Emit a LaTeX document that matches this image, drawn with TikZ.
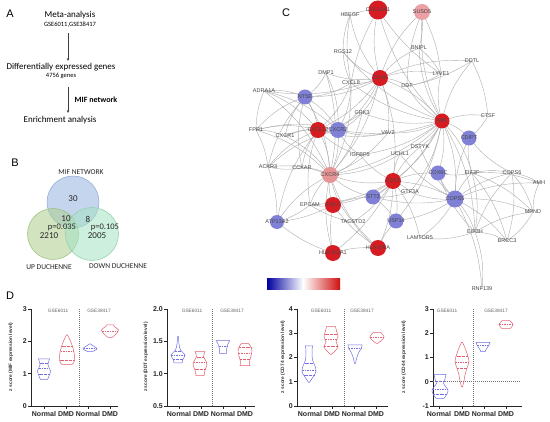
\documentclass[tikz,border=0pt]{standalone}
\usepackage{fontspec}
\setmainfont{Liberation Sans}
\newfontfamily\calfont{Carlito}
\usetikzlibrary{arrows.meta}
\pgfdeclarelayer{bg}
\pgfsetlayers{bg,main}
\definecolor{nred}{RGB}{214,28,34}
\definecolor{nblue}{RGB}{128,128,214}
\definecolor{npink}{RGB}{230,148,150}
\definecolor{vblu}{RGB}{112,112,226}
\definecolor{vred}{RGB}{226,96,112}
\newcommand\vio[3]{%
  \gdef\rpts{}\gdef\lpts{}%
  \foreach \yy/\ww in {#3}{\xdef\rpts{\rpts(\ww,\yy)}\xdef\lpts{(-\ww,\yy)\lpts}}%
  \begin{scope}[xshift=#1pt]%
  \edef\vtmp{\noexpand\draw[#2] plot[smooth,tension=0.55] coordinates {\rpts} -- plot[smooth,tension=0.55] coordinates {\lpts} -- cycle;}%
  \vtmp
  \end{scope}}
\newcommand\vmed[4]{\draw[#4] (#1-#3,#2) -- (#1+#3,#2);}
\tikzset{
  netedge/.style={draw=black!32, line width=0.4pt},
  lab/.style={font=\fontsize{5.5}{5.5}\selectfont, text=black!72, inner sep=0.3pt},
  cnode/.style={circle, minimum size=16pt, inner sep=0pt},
  rednode/.style={cnode, fill=nred, label={[lab]center:#1}},
  bluenode/.style={cnode, fill=nblue, label={[lab]center:#1}},
  pinknode/.style={cnode, fill=npink, label={[lab]center:#1}},
  atext/.style={font=\calfont\fontsize{9}{9}\selectfont, inner sep=0.5pt},
  asmall/.style={font=\calfont\fontsize{6.5}{6.5}\selectfont, inner sep=0.5pt},
  aarrow/.style={draw=black!75, line width=0.5pt, -{Stealth[length=3pt,width=2.6pt]}},
  vtext/.style={font=\calfont\fontsize{7.5}{7.5}\selectfont, inner sep=0.3pt, text=black!85},
  vnum/.style={font=\calfont\fontsize{9}{9}\selectfont, inner sep=0.3pt, text=black!85},
  vp/.style={font=\calfont\fontsize{8.5}{8.5}\selectfont, inner sep=0.3pt, text=black!85},
  panel/.style={font=\fontsize{11}{11}\selectfont, inner sep=0pt},
  axis/.style={draw=black!85, line width=0.7pt},
  tk/.style={font=\bfseries\fontsize{7}{7}\selectfont, inner sep=0.5pt, text=black!85},
  xl/.style={font=\bfseries\fontsize{7}{7}\selectfont, inner sep=0.5pt, text=black!85},
  ylab/.style={font=\bfseries\fontsize{4.8}{4.8}\selectfont, inner sep=0pt, rotate=90, text=black!80},
  gse/.style={font=\fontsize{4.8}{4.8}\selectfont, inner sep=0pt, text=black!60},
  divider/.style={draw=black!55, line width=0.5pt, dash pattern=on 1pt off 1pt},
  vb/.style={draw=vblu, line width=0.5pt},
  vr/.style={draw=vred, line width=0.5pt},
  mb/.style={draw=vblu, line width=0.45pt, dash pattern=on 1.5pt off 1pt},
  mr/.style={draw=vred, line width=0.45pt, dash pattern=on 1.5pt off 1pt},
  qb/.style={draw=vblu, line width=0.4pt, dash pattern=on 0.5pt off 0.8pt},
  qr/.style={draw=vred, line width=0.4pt, dash pattern=on 0.5pt off 0.8pt},
}
\begin{document}
\begin{tikzpicture}[x=1pt,y=-1pt]
\useasboundingbox (0,0) rectangle (550,422);
\begin{pgfonlayer}{bg}
\fill[white] (0,0) rectangle (550,422);
\end{pgfonlayer}
% ---------------- Panel A
\node[panel] (pA) at (10,14) {A};
\node[atext] (meta) at (70,15) {Meta-analysis};
\node[asmall] (gse) at (70,25) {GSE6011,GSE38417};
\node[atext] (deg) at (61,67) {Differentially expressed genes};
\node[asmall] (n4756) at (61,76) {4756 genes};
\node[atext] (enr) at (60,120) {Enrichment analysis};
\node[font=\calfont\bfseries\fontsize{8}{8}\selectfont, inner sep=0.5pt] (mifnet) at (96,100) {MIF network};
\coordinate (a1s) at (68,33);
\coordinate (a1e) at (68,61);
\coordinate (a2s) at (68,87);
\coordinate (a2e) at (68,113);
\draw[aarrow] (a1s) -- (a1e);
\draw[aarrow] (a2s) -- (a2e);
% ---------------- Panel B
\node[panel] (pB) at (15,163) {B};
\node[circle, minimum size=52pt, fill={rgb,255:red,160;green,186;blue,228}, fill opacity=0.6, draw={rgb,255:red,140;green,166;blue,214}, line width=0.5pt] (vmif) at (73,202) {};
\node[circle, minimum size=51pt, fill={rgb,255:red,172;green,206;blue,140}, fill opacity=0.55, draw={rgb,255:red,150;green,190;blue,120}, line width=0.5pt] (vup) at (53,234) {};
\node[circle, minimum size=53pt, fill={rgb,255:red,165;green,226;blue,196}, fill opacity=0.55, draw={rgb,255:red,140;green,206;blue,172}, line width=0.5pt] (vdown) at (92,234) {};
\node[vtext] (tmif) at (81,172) {MIF NETWORK};
\node[vnum] (t30) at (73,199) {30};
\node[vnum] (t10) at (66,219) {10};
\node[vnum] (t8) at (88,219) {8};
\node[vp] (p1) at (62,227) {p=0.035};
\node[vp] (p2) at (105,227) {p=0.105};
\node[vnum] (t2210) at (49,236) {2210};
\node[vnum] (t2005) at (97,236) {2005};
\node[vtext] (tup) at (49,267) {UP DUCHENNE};
\node[vtext] (tdown) at (118,266) {DOWN DUCHENNE};
% ---------------- Panel C
\node[panel] (pC) at (286,13) {C};
\node[rednode=COL14A1, minimum size=19pt] (col14) at (378,10) {};
\node[pinknode=SUSD5, fill={rgb,255:red,234;green,160;blue,166}] (susd) at (422,12) {};
\node[lab] (hbegf) at (350,15) {HBEGF};
\node[lab] (rgs) at (343,52) {RGS12};
\node[lab] (bnipl) at (419,48) {BNIPL};
\node[lab] (ddtl) at (472,61) {DDTL};
\node[lab] (lyve) at (441,74) {LYVE1};
\node[lab] (dmp) at (326,73) {DMP1};
\node[rednode=CD44] (cd44) at (380,78) {};
\node[lab] (cxcl8) at (351,83) {CXCL8};
\node[lab] (ddt) at (407,86) {DDT};
\node[lab] (adra) at (264,91) {ADRA1A};
\node[bluenode=NT5E, minimum size=15pt] (nt5e) at (305,97) {};
\node[lab] (grk3) at (362,113) {GRK3};
\node[lab] (ctsf) at (488,116) {CTSF};
\node[rednode=MIF, minimum size=15pt] (mif) at (442,121) {};
\node[bluenode=CDIPT, minimum size=15pt] (cdipt) at (469,138) {};
\node[lab] (fpr1) at (256,130) {FPR1};
\node[rednode=CXCL12] (cxcl12) at (318,130) {};
\node[bluenode=CXCR2] (cxcr2) at (338,130) {};
\node[lab] (cxcr1) at (285,136) {CXCR1};
\node[lab] (vav2) at (388,133) {VAV2};
\node[lab] (dstyk) at (420,147) {DSTYK};
\node[lab] (igfbp5) at (360,155) {IGFBP5};
\node[lab] (uchl1) at (400,154) {UCHL1};
\node[lab] (ackr3) at (268,167) {ACKR3};
\node[lab] (cckar) at (302,168) {CCKAR};
\node[pinknode=CXCR4] (cxcr4) at (330,175) {};
\node[rednode=CD74] (cd74) at (393,181) {};
\node[bluenode=COX6C, minimum size=15pt] (cox6c) at (438,173) {};
\node[lab] (eif3f) at (472,173) {EIF3F};
\node[lab] (cops6) at (512,173) {COPS6};
\node[lab] (amh) at (539,183) {AMH};
\node[bluenode=COPS5, minimum size=17pt] (cops5) at (455,199) {};
\node[lab] (gtf3a) at (410,192) {GTF3A};
\node[bluenode=STT3, minimum size=15pt] (stt3) at (373,197) {};
\node[lab] (epcam) at (310,205) {EPCAM};
\node[rednode=FHL1] (fhl1) at (333,205) {};
\node[lab] (mpnd) at (533,212) {MPND};
\node[bluenode=ATP13A2, minimum size=14pt] (atp) at (277,222) {};
\node[lab] (tacstd2) at (353,222) {TACSTD2};
\node[bluenode=USP14, minimum size=15pt] (usp14) at (396,221) {};
\node[lab] (eif3h) at (475,232) {EIF3H};
\node[lab] (lamtor5) at (420,238) {LAMTOR5};
\node[lab] (brcc3) at (507,241) {BRCC3};
\node[rednode=HLA-DRA] (hladra) at (378,248) {};
\node[rednode=HLA-DQA1] (hladqa1) at (333,253) {};
\node[lab] (rnf139) at (482,289) {RNF139};
\begin{pgfonlayer}{bg}
\foreach \a/\b in {cd44/col14, cd44/susd, cd44/hbegf, cd44/rgs, cd44/dmp, cd44/cxcl8, cd44/ddt, cd44/lyve, cd44/bnipl, cd44/nt5e, cd44/grk3, cd44/mif, cd44/cxcr4, cd44/cd74, cd44/cxcl12, cd44/cxcr2, cd44/vav2, cd44/ddtl, cd44/adra,
 mif/ddt, mif/ddtl, mif/lyve, mif/bnipl, mif/susd, mif/ctsf, mif/cdipt, mif/dstyk, mif/uchl1, mif/vav2, mif/grk3, mif/cd74, mif/cops5, mif/cox6c, mif/eif3f, mif/cxcr4, mif/cxcr2, mif/cxcl8, mif/rgs, mif/igfbp5, mif/gtf3a, mif/stt3, mif/eif3h, mif/usp14, mif/col14}
  \draw[netedge] (\a.center) to[bend left=14] (\b.center);
\foreach \a/\b in {cxcr4/cxcl12, cxcr4/cxcr2, cxcr4/cxcr1, cxcr4/ackr3, cxcr4/cckar, cxcr4/fpr1, cxcr4/adra, cxcr4/nt5e, cxcr4/atp, cxcr4/epcam, cxcr4/fhl1, cxcr4/igfbp5, cxcr4/cd74, cxcr4/stt3, cxcr4/hladra, cxcr4/hladqa1, cxcr4/tacstd2, cxcr4/cxcl8, cxcr4/grk3, cxcr4/vav2, cxcr4/uchl1, cxcr4/dmp,
 cxcl12/cxcr2, cxcl12/cxcr1, cxcl12/ackr3, cxcl12/fpr1, cxcl12/adra, cxcl12/nt5e, cxcl12/cckar, cxcl12/atp, cxcl12/epcam, cxcl12/igfbp5, cxcl12/grk3, cxcl12/cxcl8, cxcl12/vav2,
 cxcr2/cxcr1, cxcr2/fpr1, cxcr2/nt5e, cxcr2/cxcl8, cxcr2/adra, cxcr2/ackr3, cxcr2/grk3, cxcr2/vav2, cxcr2/igfbp5, cxcr2/dmp,
 nt5e/adra, nt5e/cxcr1, nt5e/fpr1, nt5e/ackr3, nt5e/cckar, nt5e/dmp, nt5e/cxcl8}
  \draw[netedge] (\a.center) to[bend right=14] (\b.center);
\foreach \a/\b in {cd74/hladra, cd74/hladqa1, cd74/stt3, cd74/usp14, cd74/fhl1, cd74/gtf3a, cd74/cops5, cd74/uchl1, cd74/dstyk, cd74/igfbp5, cd74/tacstd2, cd74/epcam, cd74/lamtor5, cd74/cox6c,
 cops5/cops6, cops5/eif3f, cops5/eif3h, cops5/mpnd, cops5/brcc3, cops5/amh, cops5/cox6c, cops5/gtf3a, cops5/lamtor5, cops5/usp14, cops5/stt3, cops5/rnf139, cops5/cdipt, cops5/dstyk, cops5/uchl1,
 eif3f/cops6, eif3f/eif3h, eif3f/mpnd, eif3f/brcc3, eif3f/cox6c, eif3f/cdipt, eif3f/amh,
 eif3h/cops6, eif3h/mpnd, eif3h/brcc3, eif3h/lamtor5, eif3h/rnf139, eif3h/cox6c,
 cops6/mpnd, cops6/brcc3, cops6/amh, cops6/cdipt, mpnd/brcc3, mpnd/amh}
  \draw[netedge] (\a.center) to[bend left=12] (\b.center);
\foreach \a/\b in {hladra/hladqa1, fhl1/hladqa1, fhl1/hladra, tacstd2/hladra, epcam/fhl1, epcam/tacstd2, atp/ackr3, atp/epcam, atp/fhl1, atp/hladqa1, usp14/stt3, usp14/hladra, stt3/fhl1, stt3/gtf3a,
 cdipt/ctsf, ctsf/ddtl, ddt/ddtl, ddt/lyve, bnipl/susd, lyve/susd, lyve/bnipl, hbegf/rgs, col14/lyve, col14/hbegf, rgs/cxcl8, ackr3/fpr1, ackr3/cckar, cxcr1/fpr1, adra/fpr1, hbegf/cxcl8, col14/cxcl8, susd/ddt}
  \draw[netedge] (\a.center) to[bend right=10] (\b.center);
\end{pgfonlayer}
% colour bar
\shade[left color={rgb,255:red,0;green,0;blue,160}, right color=white] (267,279) rectangle (303,290);
\shade[left color=white, right color={rgb,255:red,208;green,16;blue,16}] (303,279) rectangle (340,290);
% ---------------- Panel D
\node[panel] (pD) at (10,296) {D};
% plot 1
\draw[axis] (31,309) -- (31,406) -- (118,406);
\foreach \y/\l in {309/3,341.3/2,373.7/1,406/0} {\draw[axis] (31,\y) -- (28,\y); \node[tk,anchor=east] at (27.5,\y) {\l};}
\foreach \x in {44,66,88,110} \draw[axis] (\x,406) -- (\x,409);
\foreach \x/\t in {44/Normal,66/DMD,88/Normal,110/DMD} \node[xl] at (\x,414) {\t};
\draw[divider] (79,309) -- (79,406);
\node[gse] at (58,311) {GSE6011};
\node[gse] at (99,311) {GSE38417};
\node[ylab] at (11,357) {z score (MIF expression level)};
\vio{44}{vb}{359/5.5,365/4,371/6.5,376/5,379.5/3.5}
\vmed{44}{368}{5}{mb} \vmed{44}{363}{4.5}{qb} \vmed{44}{374}{5.5}{qb}
\vio{67}{vr}{335/0.5,340/3,348/6,356/7.5,362/7,364.5/5}
\vmed{67}{351.7}{6.5}{mr} \vmed{67}{346.7}{5.5}{qr} \vmed{67}{360}{7.5}{qr}
\vio{90}{vb}{344/0.5,347/5,349/7,351.7/2}
\vmed{90}{348.3}{6.5}{mb}
\vio{110}{vr}{325/3.5,327/5,330/8.5,334/6,337.5/2}
\vmed{110}{331}{8}{mr}
% plot 2
\draw[axis] (167,309) -- (167,406) -- (255,406);
\foreach \y/\l in {309/2.0,341.3/1.5,373.7/1.0,406/0.5} {\draw[axis] (167,\y) -- (164,\y); \node[tk,anchor=east] at (163.5,\y) {\l};}
\foreach \x in {179,201,223,245} \draw[axis] (\x,406) -- (\x,409);
\foreach \x/\t in {179/Normal,201/DMD,223/Normal,245/DMD} \node[xl] at (\x,414) {\t};
\draw[divider] (212,309) -- (212,406);
\node[gse] at (192,311) {GSE6011};
\node[gse] at (232,311) {GSE38417};
\node[ylab] at (146,357) {z score (DDT expression level)};
\vio{178}{vb}{336.7/0.5,344/1,350/2.5,355/7,359/5,363/4}
\vmed{178}{355}{7}{mb} \vmed{178}{351}{3}{qb} \vmed{178}{359}{5}{qb}
\vio{200}{vr}{351.7/5,356.7/3.5,361/6,365/7,370/5,375.7/4}
\vmed{200}{362}{6.5}{mr} \vmed{200}{357}{3.5}{qr} \vmed{200}{369}{5.5}{qr}
\vio{223}{vb}{340.7/6.7,344/5,346.7/4,350/3.5,353.3/3.5}
\vmed{223}{346}{4}{mb}
\vio{245}{vr}{343.3/3,346/5.5,350/7,356/6,361.7/4.5,365.7/5}
\vmed{245}{353}{6.5}{mr} \vmed{245}{347}{6}{qr} \vmed{245}{359}{5}{qr}
% plot 3
\draw[axis] (297,309) -- (297,406) -- (388,406);
\foreach \y/\l in {309/4,333.25/3,357.5/2,381.75/1,406/0} {\draw[axis] (297,\y) -- (294,\y); \node[tk,anchor=east] at (293.5,\y) {\l};}
\foreach \x in {310,332,354,376} \draw[axis] (\x,406) -- (\x,409);
\foreach \x/\t in {310/Normal,332/DMD,354/Normal,376/DMD} \node[xl] at (\x,414) {\t};
\draw[divider] (344,309) -- (344,406);
\node[gse] at (321,311) {GSE6011};
\node[gse] at (362,311) {GSE38417};
\node[ylab] at (283,357) {z score (CD74 expression level)};
\vio{309}{vb}{346/3.5,352/3,360/3.5,366/6,371.7/7,377/4,382.3/0.5}
\vmed{309}{370}{7}{mb} \vmed{309}{363}{4.5}{qb} \vmed{309}{375}{5.5}{qb}
\vio{331}{vr}{326.7/4.5,331/5.5,336.7/7,341.7/5,346.7/7,351/4,354.3/0.5}
\vmed{331}{339}{6}{mr} \vmed{331}{334}{6.5}{qr} \vmed{331}{346}{7}{qr}
\vio{355}{vb}{345/7,348/6.5,352/4,357/2,363.3/0.5}
\vmed{355}{348}{6.5}{mb}
\vio{377}{vr}{332.7/4,336.7/7,340/5,343.3/0.8}
\vmed{377}{337}{7}{mr}
% plot 4
\draw[axis] (433,309) -- (433,406) -- (522,406);
\foreach \y/\l in {309/3,333.25/2,357.5/1,381.75/0,406/-1} {\draw[axis] (433,\y) -- (430,\y); \node[tk,anchor=east] at (429.5,\y) {\l};}
\foreach \x in {439,462,484,506} \draw[axis] (\x,406) -- (\x,409);
\foreach \x/\t in {439/Normal,462/DMD,484/Normal,506/DMD} \node[xl] at (\x,414) {\t};
\draw[divider] (473,309) -- (473,406);
\draw[divider] (433,381.75) -- (520,381.75);
\node[gse] at (447,311) {GSE6011};
\node[gse] at (496,311) {GSE38417};
\node[ylab] at (404,357) {z score (CD44 expression level)};
\vio{440}{vb}{374.3/6,379/5,383.3/3.5,387/6,390/8,394/7,398.3/4}
\vmed{440}{389}{8}{mb} \vmed{440}{381}{4}{qb} \vmed{440}{394}{7}{qb}
\vio{462}{vr}{342.3/0.5,348/3,355/5.5,361.7/7,368/5,375/3,381/2,386.7/0.5}
\vmed{462}{362}{7}{mr} \vmed{462}{356}{5.5}{qr} \vmed{462}{368}{5}{qr}
\vio{483}{vb}{342.3/7,345/6,348/4,351.7/2}
\vmed{483}{345}{6}{mb}
\vio{506}{vr}{320.7/4,324.3/7,326.5/6,328.3/4.5}
\vmed{506}{324.5}{7}{mr}
\end{tikzpicture}
\end{document}
